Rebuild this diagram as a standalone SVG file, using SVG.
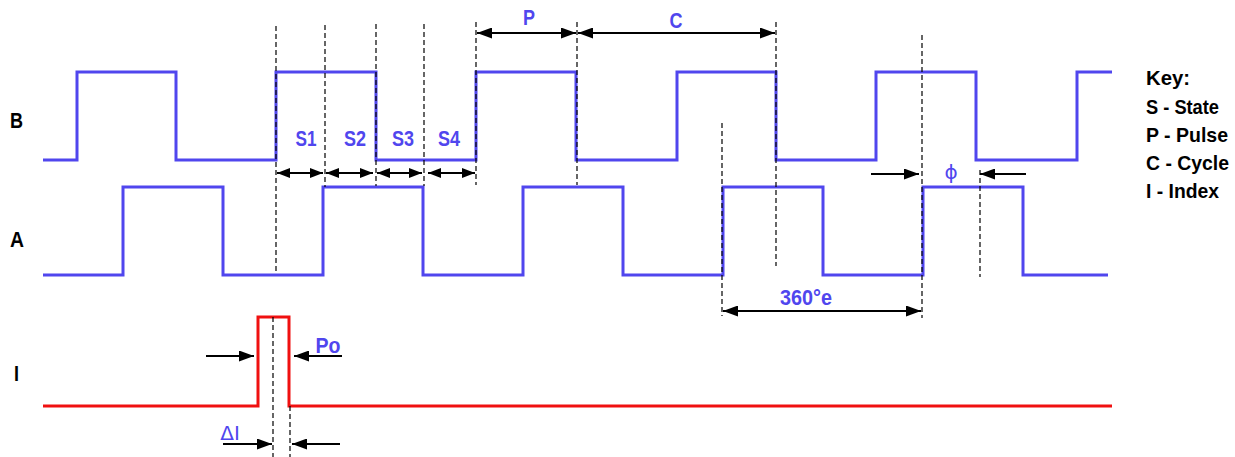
<svg xmlns="http://www.w3.org/2000/svg" width="1235" height="457" viewBox="0 0 1235 457">
<style>
.wave{fill:none;stroke:#5046ee;stroke-width:3;stroke-linejoin:miter}
.idx{fill:none;stroke:#f01010;stroke-width:3}
.dash{stroke:#000;stroke-width:1.2;stroke-dasharray:5,3;fill:none}
.arr{stroke:#000;stroke-width:2;fill:none}
.lbl{font-family:"Liberation Sans",Arial,sans-serif;font-weight:bold;font-size:22px;fill:#000}
.key{font-family:"Liberation Sans",Arial,sans-serif;font-weight:bold;font-size:21px;fill:#000}
.blu{font-family:"Liberation Sans",Arial,sans-serif;font-weight:bold;font-size:22px;fill:#5046ee}
.thin{font-family:"DejaVu Sans","Liberation Sans",sans-serif;font-size:20px;fill:#5046ee}
</style>
<defs>
<marker id="ah" markerUnits="userSpaceOnUse" markerWidth="15" markerHeight="11" refX="15" refY="5.5" orient="auto-start-reverse">
<path d="M0,0 L15,5.5 L0,11 Z" fill="#000"/>
</marker>
<marker id="ahs" markerUnits="userSpaceOnUse" markerWidth="13" markerHeight="10" refX="13" refY="5" orient="auto-start-reverse">
<path d="M0,0 L13,5 L0,10 Z" fill="#000"/>
</marker>
</defs>
<rect width="1235" height="457" fill="#fff"/>

<g id="signal-B">
<polyline class="wave" points="43,160 77,160 77,72 176,72 176,160 276,160 276,72 376,72 376,160 476,160 476,72 576,72 576,160 677,160 677,72 776,72 776,160 876,160 876,72 976,72 976,160 1077,160 1077,72 1112,72"/>
<text class="lbl" x="10" y="128" textLength="13" lengthAdjust="spacingAndGlyphs">B</text>
</g>
<g id="signal-A">
<polyline class="wave" points="43,275 123,275 123,187 223,187 223,275 323,275 323,187 423,187 423,275 523,275 523,187 623,187 623,275 723,275 723,187 823,187 823,275 923,275 923,187 1023,187 1023,275 1108,275"/>
<text class="lbl" x="10" y="247" textLength="14" lengthAdjust="spacingAndGlyphs">A</text>
</g>
<g id="signal-I">
<polyline class="idx" points="43,406 258,406 258,317 289,317 289,406 1112,406"/>
<text class="lbl" x="14" y="381" textLength="5" lengthAdjust="spacingAndGlyphs">I</text>
</g>

<g id="guides">
<line class="dash" x1="276" y1="26" x2="276" y2="272"/>
<line class="dash" x1="325" y1="25" x2="325" y2="187"/>
<line class="dash" x1="376" y1="24" x2="376" y2="186"/>
<line class="dash" x1="424" y1="24" x2="424" y2="186"/>
<line class="dash" x1="476" y1="22" x2="476" y2="185"/>
<line class="dash" x1="577" y1="22" x2="577" y2="185"/>
<line class="dash" x1="776" y1="22" x2="776" y2="266"/>
<line class="dash" x1="722" y1="123" x2="722" y2="316"/>
<line class="dash" x1="922" y1="35" x2="922" y2="318"/>
<line class="dash" x1="980" y1="170" x2="980" y2="277"/>
<line class="dash" x1="273" y1="317" x2="273" y2="457"/>
<line class="dash" x1="290" y1="406" x2="290" y2="457"/>
</g>

<g id="connectors">
<line class="arr" x1="477" y1="33" x2="576" y2="33" marker-start="url(#ah)" marker-end="url(#ah)"/>
<line class="arr" x1="578" y1="33" x2="775" y2="33" marker-start="url(#ah)" marker-end="url(#ah)"/>
<line class="arr" x1="277" y1="173" x2="323" y2="173" marker-start="url(#ahs)" marker-end="url(#ahs)"/>
<line class="arr" x1="326" y1="173" x2="373" y2="173" marker-start="url(#ahs)" marker-end="url(#ahs)"/>
<line class="arr" x1="377" y1="173" x2="422" y2="173" marker-start="url(#ahs)" marker-end="url(#ahs)"/>
<line class="arr" x1="428" y1="173" x2="475" y2="173" marker-start="url(#ahs)" marker-end="url(#ahs)"/>
<line class="arr" x1="871" y1="174" x2="919" y2="174" marker-end="url(#ah)"/>
<line class="arr" x1="1026" y1="174" x2="980" y2="174" marker-end="url(#ah)"/>
<line class="arr" x1="723" y1="311" x2="921" y2="311" marker-start="url(#ah)" marker-end="url(#ah)"/>
<line class="arr" x1="206" y1="356" x2="254" y2="356" marker-end="url(#ah)"/>
<line class="arr" x1="342" y1="356" x2="294" y2="356" marker-end="url(#ah)"/>
<line class="arr" x1="223" y1="444" x2="272" y2="444" marker-end="url(#ah)"/>
<line class="arr" x1="340" y1="444" x2="292" y2="444" marker-end="url(#ah)"/>
</g>

<g id="labels">
<text class="blu" x="529" y="25" text-anchor="middle" textLength="12" lengthAdjust="spacingAndGlyphs">P</text>
<text class="blu" x="676" y="28" text-anchor="middle" textLength="13" lengthAdjust="spacingAndGlyphs">C</text>
<text class="blu" x="306" y="146" text-anchor="middle" textLength="21" lengthAdjust="spacingAndGlyphs">S1</text>
<text class="blu" x="355" y="146" text-anchor="middle" textLength="22" lengthAdjust="spacingAndGlyphs">S2</text>
<text class="blu" x="403" y="146" text-anchor="middle" textLength="22" lengthAdjust="spacingAndGlyphs">S3</text>
<text class="blu" x="449" y="146" text-anchor="middle" textLength="22" lengthAdjust="spacingAndGlyphs">S4</text>
<text class="thin" x="951" y="179" text-anchor="middle">ϕ</text>
<text class="blu" x="806" y="305" text-anchor="middle" textLength="52" lengthAdjust="spacingAndGlyphs">360°e</text>
<text class="blu" x="328" y="353" text-anchor="middle" textLength="25" lengthAdjust="spacingAndGlyphs">Po</text>
<text class="thin" x="230" y="440" text-anchor="middle">ΔI</text>
</g>

<g id="key">
<text class="key" x="1146" y="85" textLength="44" lengthAdjust="spacingAndGlyphs">Key:</text>
<text class="key" x="1146" y="114" textLength="73" lengthAdjust="spacingAndGlyphs">S - State</text>
<text class="key" x="1146" y="142" textLength="82" lengthAdjust="spacingAndGlyphs">P - Pulse</text>
<text class="key" x="1146" y="170" textLength="83" lengthAdjust="spacingAndGlyphs">C - Cycle</text>
<text class="key" x="1146" y="198" textLength="73" lengthAdjust="spacingAndGlyphs">I - Index</text>
</g>
</svg>
